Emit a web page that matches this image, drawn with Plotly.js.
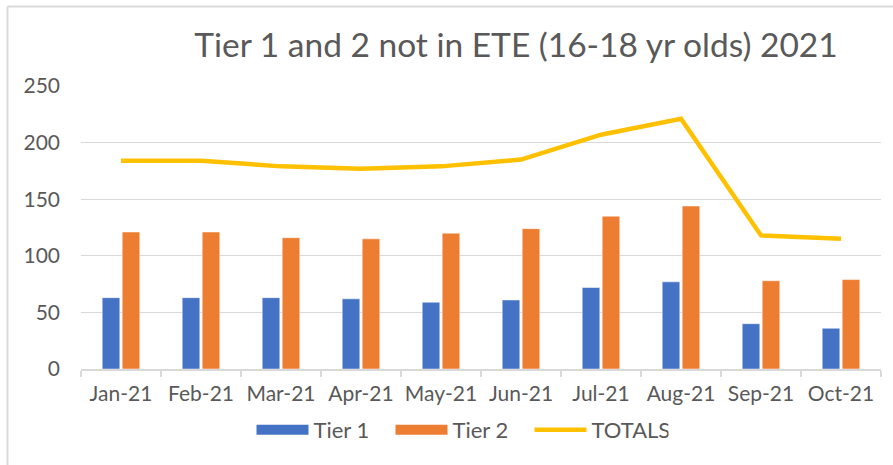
<!DOCTYPE html>
<html>
<head>
<meta charset="utf-8">
<script src="https://cdn.plot.ly/plotly-3.0.1.min.js"></script>
<style>
  html, body { margin: 0; padding: 0; background: #ffffff; }
  #chart { width: 893px; height: 465px; }
</style>
</head>
<body>
<div id="chart"></div>
<script>
const months = ["Jan-21", "Feb-21", "Mar-21", "Apr-21", "May-21", "Jun-21", "Jul-21", "Aug-21", "Sep-21", "Oct-21"];
const tier1 = [63, 63, 63, 62, 59, 61, 72, 77, 40, 36];
const tier2 = [121, 121, 116, 115, 120, 124, 135, 144, 78, 79];
const totals = [184, 184, 179, 177, 179, 185, 207, 221, 118, 115];
const yTicks = [0, 50, 100, 150, 200, 250];

const textColor = "#595959";
const gridColor = "#d9d9d9";
const baseFont = "Lato, Liberation Sans, Arial, sans-serif";
const c1 = "#4472C4", c2 = "#ED7D31", c3 = "#FFC000";

const traces = [
  { type: "bar", name: "Tier 1", x: months, y: tier1, legendgroup: "t1", showlegend: false,
    marker: { color: c1, line: { color: "#ffffff", width: 0.5 } }, hoverinfo: "y" },
  { type: "bar", name: "Tier 2", x: months, y: tier2, legendgroup: "t2", showlegend: false,
    marker: { color: c2, line: { color: "#ffffff", width: 0.5 } }, hoverinfo: "y" },
  { type: "scatter", mode: "lines", name: "TOTALS", x: months, y: totals, showlegend: false,
    line: { color: c3, width: 4.5 }, hoverinfo: "y" },
  // legend keys (wide swatches like the reference)
  { type: "scatter", mode: "lines", name: "Tier 1", x: [null], y: [null], legendgroup: "t1",
    line: { color: c1, width: 14 }, hoverinfo: "skip" },
  { type: "scatter", mode: "lines", name: "Tier 2", x: [null], y: [null], legendgroup: "t2",
    line: { color: c2, width: 14 }, hoverinfo: "skip" },
  { type: "scatter", mode: "lines", name: "TOTALS", x: [null], y: [null],
    line: { color: c3, width: 4.5 }, hoverinfo: "skip" }
];

const L = 81, R = 12, T = 86, B = 96, W = 893, H = 465;
const pw = W - L - R, ph = H - T - B;
const px = v => (v - L) / pw;
const py = v => (H - B - v) / ph;

const layout = {
  width: W, height: H,
  margin: { l: L, r: R, t: T, b: B, pad: 0 },
  paper_bgcolor: "#ffffff", plot_bgcolor: "#ffffff",
  font: { family: baseFont, color: textColor, size: 21 },
  title: {
    text: "Tier 1 and 2 not in ETE (16-18 yr olds) 2021",
    font: { family: baseFont, size: 33.5, color: textColor },
    x: px(516), xref: "paper", xanchor: "center",
    y: 1 - 45 / H, yref: "container", yanchor: "middle"
  },
  barmode: "group",
  bargap: 0.5,
  bargroupgap: 0.12,
  showlegend: true,
  legend: {
    orientation: "h", x: px(460), xanchor: "center", y: py(430), yanchor: "middle",
    font: { size: 22, color: textColor }, traceorder: "normal",
    itemwidth: 52, entrywidth: 72, entrywidthmode: "pixels",
    bgcolor: "rgba(0,0,0,0)"
  },
  xaxis: {
    type: "category",
    tickson: "boundaries",
    tickangle: 0,
    ticks: "outside", ticklen: 6, tickcolor: gridColor, tickwidth: 1.5,
    showline: true, linecolor: gridColor, linewidth: 1.5,
    showgrid: false, zeroline: false,
    tickfont: { size: 21, color: textColor },
    ticklabelstandoff: 5,
    fixedrange: true
  },
  yaxis: {
    range: [0, 250],
    tickvals: yTicks,
    ticktext: yTicks.map(String),
    showgrid: true, gridcolor: gridColor, gridwidth: 1.2,
    zeroline: false, showline: false, ticks: "",
    tickfont: { size: 21, color: textColor },
    ticklabelstandoff: 20,
    fixedrange: true
  },
  shapes: [
    { type: "line", xref: "paper", yref: "paper",
      x0: px(7.5), x1: px(7.5), y0: py(H + 5), y1: py(6.5),
      line: { color: gridColor, width: 2 } },
    { type: "line", xref: "paper", yref: "paper",
      x0: px(7.5), x1: px(W + 5), y0: py(6.5), y1: py(6.5),
      line: { color: gridColor, width: 2 } }
  ]
};

Plotly.newPlot("chart", traces, layout, { displayModeBar: false, staticPlot: true });
</script>
</body>
</html>
